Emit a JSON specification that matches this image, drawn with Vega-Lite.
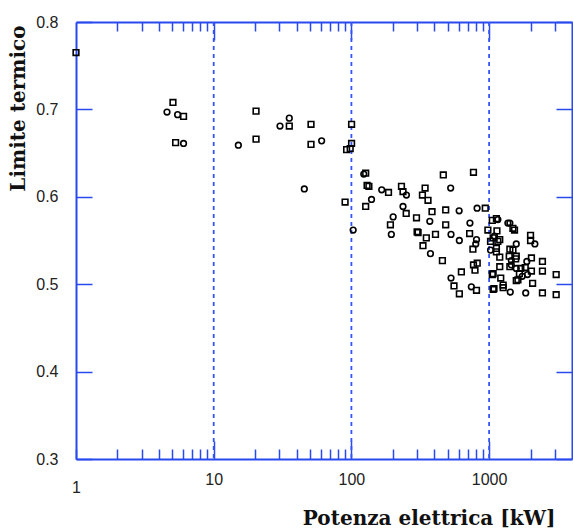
{
  "$schema": "https://vega.github.io/schema/vega-lite/v6.json",
  "autosize": "none",
  "width": 496,
  "height": 437,
  "padding": {"left": 76, "top": 22, "right": 1, "bottom": 71},
  "background": "white",
  "config": {"view": {"stroke": null}},
  "resolve": {"axis": {"x": "independent", "y": "independent"}},
  "layer": [
    {
      "data": {"values": [{"g":10},{"g":100},{"g":1000}]},
      "mark": {"type": "rule", "color": "#3355f5", "strokeWidth": 1.8, "strokeDash": [4, 4]},
      "encoding": {
        "x": {"field": "g", "type": "quantitative",
              "axis": {"orient": "top", "title": null, "labels": false, "grid": false,
                       "values": [2,3,4,5,6,7,8,9,10,20,30,40,50,60,70,80,90,100,200,300,400,500,600,700,800,900,1000,2000,3000],
                       "domainColor": "#2848f0", "domainWidth": 2, "tickColor": "#2848f0", "tickWidth": 1.5,
                       "tickSize": {"condition": {"test": "indexof([10,100,1000], datum.value) >= 0", "value": -18}, "value": -9}}}
      }
    },
    {
      "data": {"values": [
        {"p":1,"t":0.765,"m":"s"},{"p":5.06,"t":0.708,"m":"s"},{"p":4.58,"t":0.697,"m":"c"},{"p":5.47,"t":0.694,"m":"c"},
        {"p":6.04,"t":0.692,"m":"s"},{"p":5.29,"t":0.662,"m":"s"},{"p":6.04,"t":0.661,"m":"c"},{"p":15.1,"t":0.659,"m":"c"},
        {"p":20.3,"t":0.698,"m":"s"},{"p":20.3,"t":0.666,"m":"s"},{"p":30.3,"t":0.681,"m":"c"},{"p":35.4,"t":0.690,"m":"c"},
        {"p":35.4,"t":0.681,"m":"s"},{"p":50.9,"t":0.683,"m":"s"},{"p":50.9,"t":0.660,"m":"s"},{"p":60.8,"t":0.664,"m":"c"},
        {"p":45.5,"t":0.609,"m":"c"},{"p":92.3,"t":0.654,"m":"s"},{"p":100.3,"t":0.683,"m":"s"},{"p":100.3,"t":0.661,"m":"s"},
        {"p":98,"t":0.655,"m":"s"},{"p":90,"t":0.594,"m":"s"},{"p":103,"t":0.562,"m":"c"},
        {"p":123,"t":0.626,"m":"c"},{"p":127,"t":0.627,"m":"s"},{"p":130,"t":0.613,"m":"s"},{"p":134,"t":0.612,"m":"s"},
        {"p":140,"t":0.597,"m":"c"},{"p":127,"t":0.589,"m":"s"},{"p":166,"t":0.608,"m":"c"},{"p":186,"t":0.605,"m":"s"},
        {"p":231,"t":0.612,"m":"s"},{"p":237,"t":0.606,"m":"s"},{"p":251,"t":0.602,"m":"c"},{"p":237,"t":0.589,"m":"c"},
        {"p":250,"t":0.581,"m":"s"},{"p":201,"t":0.577,"m":"c"},{"p":192,"t":0.568,"m":"s"},{"p":195,"t":0.557,"m":"c"},
        {"p":297,"t":0.576,"m":"s"},{"p":300,"t":0.560,"m":"s"},{"p":343,"t":0.610,"m":"s"},{"p":328,"t":0.602,"m":"s"},
        {"p":360,"t":0.596,"m":"s"},{"p":385,"t":0.583,"m":"s"},{"p":371,"t":0.572,"m":"c"},{"p":305,"t":0.559,"m":"s"},
        {"p":350,"t":0.553,"m":"s"},{"p":408,"t":0.557,"m":"s"},{"p":331,"t":0.544,"m":"s"},{"p":375,"t":0.535,"m":"c"},
        {"p":458,"t":0.527,"m":"s"},{"p":465,"t":0.625,"m":"s"},{"p":770,"t":0.628,"m":"s"},{"p":526,"t":0.610,"m":"c"},
        {"p":484,"t":0.585,"m":"s"},{"p":606,"t":0.584,"m":"c"},{"p":818,"t":0.587,"m":"c"},{"p":938,"t":0.587,"m":"s"},
        {"p":484,"t":0.568,"m":"s"},{"p":726,"t":0.570,"m":"c"},{"p":529,"t":0.557,"m":"c"},{"p":722,"t":0.558,"m":"s"},
        {"p":608,"t":0.550,"m":"c"},{"p":810,"t":0.551,"m":"c"},{"p":800,"t":0.546,"m":"c"},{"p":763,"t":0.540,"m":"s"},
        {"p":629,"t":0.514,"m":"s"},{"p":770,"t":0.522,"m":"s"},{"p":790,"t":0.516,"m":"s"},{"p":820,"t":0.524,"m":"s"},
        {"p":529,"t":0.507,"m":"c"},{"p":556,"t":0.498,"m":"s"},{"p":608,"t":0.489,"m":"s"},{"p":743,"t":0.497,"m":"c"},
        {"p":810,"t":0.493,"m":"s"},
        {"p":1055,"t":0.573,"m":"s"},{"p":1158,"t":0.574,"m":"c"},{"p":1130,"t":0.575,"m":"s"},{"p":980,"t":0.562,"m":"s"},
        {"p":1140,"t":0.561,"m":"s"},{"p":1095,"t":0.555,"m":"c"},{"p":1070,"t":0.553,"m":"s"},{"p":1195,"t":0.551,"m":"s"},
        {"p":1024,"t":0.549,"m":"s"},{"p":1158,"t":0.549,"m":"s"},{"p":1024,"t":0.539,"m":"c"},{"p":1130,"t":0.537,"m":"s"},
        {"p":1130,"t":0.541,"m":"s"},{"p":1195,"t":0.531,"m":"s"},{"p":1369,"t":0.570,"m":"c"},{"p":1415,"t":0.570,"m":"c"},
        {"p":1489,"t":0.564,"m":"s"},{"p":1530,"t":0.562,"m":"s"},{"p":1575,"t":0.546,"m":"c"},{"p":1415,"t":0.540,"m":"s"},
        {"p":1490,"t":0.539,"m":"s"},{"p":1400,"t":0.532,"m":"s"},{"p":1575,"t":0.532,"m":"s"},{"p":1560,"t":0.529,"m":"s"},
        {"p":1450,"t":0.527,"m":"c"},{"p":1450,"t":0.522,"m":"c"},{"p":1575,"t":0.518,"m":"c"},{"p":1195,"t":0.520,"m":"s"},
        {"p":1415,"t":0.520,"m":"s"},{"p":1700,"t":0.518,"m":"s"},{"p":1830,"t":0.519,"m":"s"},{"p":1880,"t":0.526,"m":"c"},
        {"p":2030,"t":0.530,"m":"s"},{"p":2030,"t":0.515,"m":"s"},{"p":1660,"t":0.512,"m":"s"},{"p":1575,"t":0.504,"m":"s"},
        {"p":1740,"t":0.509,"m":"c"},{"p":1900,"t":0.511,"m":"c"},{"p":2070,"t":0.501,"m":"s"},{"p":1425,"t":0.491,"m":"c"},
        {"p":1845,"t":0.490,"m":"c"},{"p":2000,"t":0.556,"m":"s"},{"p":2000,"t":0.550,"m":"s"},{"p":2150,"t":0.546,"m":"c"},
        {"p":2440,"t":0.526,"m":"s"},{"p":2440,"t":0.515,"m":"s"},{"p":2440,"t":0.490,"m":"s"},{"p":3070,"t":0.511,"m":"s"},
        {"p":3070,"t":0.488,"m":"s"},{"p":1055,"t":0.511,"m":"s"},{"p":1085,"t":0.495,"m":"s"},{"p":1265,"t":0.499,"m":"s"},
        {"p":1215,"t":0.507,"m":"s"},{"p":1070,"t":0.512,"m":"s"},{"p":1265,"t":0.496,"m":"s"},{"p":1620,"t":0.505,"m":"s"},
        {"p":1070,"t":0.494,"m":"s"}
      ]},
      "mark": {"type": "point", "filled": false, "color": "black", "strokeWidth": 1.6, "size": 32, "opacity": 1},
      "encoding": {
        "x": {"field": "p", "type": "quantitative",
              "scale": {"type": "log", "domain": [1, 4000], "nice": false},
              "axis": {"orient": "bottom", "title": "Potenza elettrica [kW]",
                       "values": [1,2,3,4,5,6,7,8,9,10,20,30,40,50,60,70,80,90,100,200,300,400,500,600,700,800,900,1000,2000,3000],
                       "labelExpr": "indexof([1,10,100,1000], datum.value) >= 0 ? format(datum.value, 'd') : ''",
                       "grid": false, "domainColor": "#2848f0", "domainWidth": 2,
                       "tickColor": "#2848f0", "tickWidth": 1.5,
                       "tickSize": {"condition": {"test": "indexof([10,100,1000], datum.value) >= 0", "value": -18}, "value": -10},
                       "labelFont": "Liberation Sans", "labelFontSize": 16, "labelColor": "#222", "labelPadding": 30,
                       "labelFlush": false, "labelOverlap": false,
                       "titleFont": "DejaVu Serif", "titleFontWeight": "bold", "titleFontSize": 20, "titleColor": "#111",
                       "titleAnchor": "end", "titleAlign": "right", "titleX": 479, "titleY": 65, "titleBaseline": "alphabetic"}},
        "y": {"field": "t", "type": "quantitative",
              "scale": {"domain": [0.3, 0.8], "nice": false, "zero": false},
              "axis": {"orient": "left", "title": "Limite termico",
                       "values": [0.3,0.4,0.5,0.6,0.7,0.8], "format": ".1f", "grid": false,
                       "domainColor": "#2848f0", "domainWidth": 2, "tickColor": "#2848f0", "tickWidth": 1.5, "tickSize": -16,
                       "labelFont": "Liberation Sans", "labelFontSize": 16, "labelColor": "#222", "labelPadding": 34,
                       "labelFlush": false, "labelOverlap": false,
                       "titleFont": "DejaVu Serif", "titleFontWeight": "bold", "titleFontSize": 20, "titleColor": "#111",
                       "titleAnchor": "end", "titleAlign": "right", "titleX": -58, "titleY": 3, "titleBaseline": "middle", "titleAngle": 270}},
        "shape": {"field": "m", "type": "nominal", "scale": {"domain": ["s","c"], "range": ["square","circle"]}, "legend": null}
      }
    },
    {
      "data": {"values": [{"h":0.5}]},
      "mark": {"type": "rule", "opacity": 0},
      "encoding": {
        "y": {"field": "h", "type": "quantitative",
              "axis": {"orient": "right", "title": null, "labels": false, "grid": false,
                       "values": [0.3,0.4,0.5,0.6,0.7,0.8],
                       "domainColor": "#2848f0", "domainWidth": 2, "tickColor": "#2848f0", "tickWidth": 1.5, "tickSize": -16}}
      }
    }
  ]
}
